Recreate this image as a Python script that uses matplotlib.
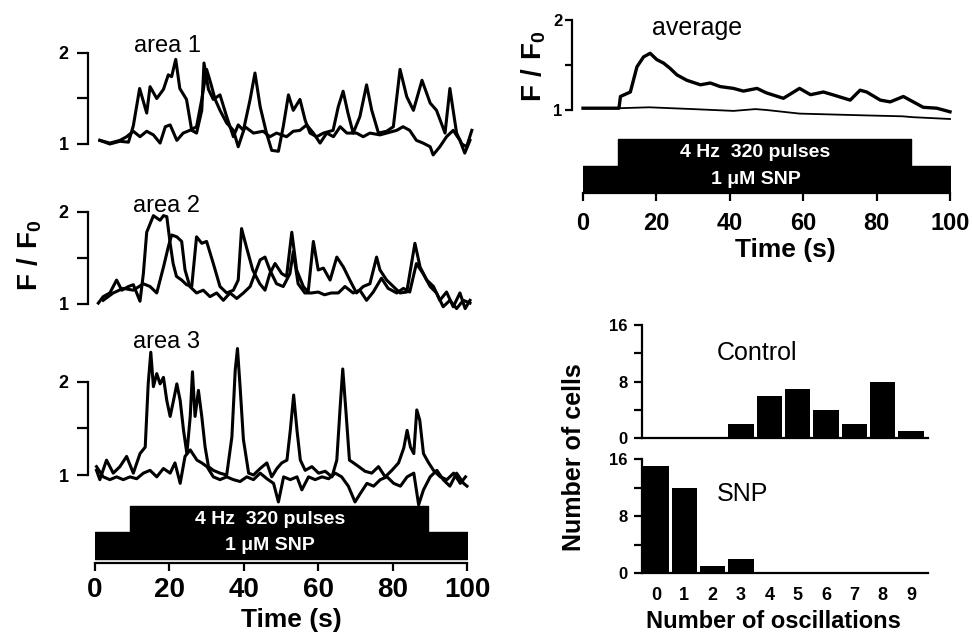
import matplotlib
matplotlib.use('Agg')
import matplotlib.pyplot as plt

# ── Data ─────────────────────────────────────────────────────────────────────
# area 1
A1_T1 = [1.3, 4, 6.7, 9, 10.3, 12, 13.9, 14.8, 16.6, 18.4, 19.7, 20.6, 21.7, 22.8, 24.6,
         26, 27.3, 28.7, 29.3, 30.5, 31.8, 33.6, 35.4, 37.2, 38.5, 39.9, 41.7, 43, 44.4, 46.1,
         47.5, 49.3, 50.6, 52, 53.3, 55.1, 56.5, 57.8, 59.6, 61.4, 64, 65.4, 66.7, 68, 69.4,
         71.2, 73, 74.4, 76.2, 78.4, 80.2, 82, 83.8, 85.6, 87.9, 90.1, 91.8, 94.1, 95.4, 97.2,
         98.6, 99.9, 101.3]
A1_V1 = [1.04, 1.0, 1.03, 1.02, 1.2, 1.61, 1.34, 1.63, 1.5, 1.6, 1.76, 1.74, 1.93, 1.61, 1.49,
         1.15, 1.12, 1.37, 1.89, 1.6, 1.49, 1.54, 1.3, 1.08, 1.21, 1.15, 1.49, 1.78, 1.41, 1.12,
         0.93, 0.92, 1.19, 1.54, 1.37, 1.49, 1.26, 1.12, 1.08, 1.12, 1.15, 1.41, 1.58, 1.34, 1.12,
         1.3, 1.65, 1.37, 1.12, 1.14, 1.19, 1.82, 1.52, 1.37, 1.7, 1.45, 1.37, 1.12, 1.61, 1.12,
         1.0, 0.97, 1.15]
A1_T2 = [1.3, 4, 6.7, 8.5, 10.3, 12.1, 13.9, 15.7, 17.5, 18.9, 20.2, 22, 23.7, 25.5, 27.3,
         28.7, 30, 31.1, 32.3, 33.6, 35.4, 37.2, 38.5, 40.3, 42.6, 45.2, 47, 48.8, 51.5, 53.3,
         55.1, 56.9, 58.7, 60.5, 62.3, 64.1, 65.9, 67.7, 70.3, 72.1, 73.9, 76.6, 78.4, 81.1, 82.8,
         84.6, 86.4, 88.2, 90.1, 90.9, 92.7, 94.5, 96.3, 98.1, 99.4, 100.8]
A1_V2 = [1.04, 1.01, 1.04, 1.08, 1.14, 1.08, 1.14, 1.1, 1.01, 1.19, 1.21, 1.04, 1.12, 1.15, 1.19,
         1.49, 1.82, 1.67, 1.49, 1.37, 1.23, 1.15, 0.97, 1.19, 1.12, 1.14, 1.08, 1.12, 1.08, 1.14,
         1.15, 1.21, 1.12, 1.01, 1.12, 1.08, 1.19, 1.12, 1.12, 1.08, 1.12, 1.1, 1.12, 1.15, 1.19,
         1.15, 1.04, 1.01, 0.97, 0.88, 0.97, 1.08, 1.15, 1.04, 0.9, 1.04]

# area 2
A2_T1 = [0.9, 2.2, 4, 5.8, 7.2, 9, 10.3, 12.1, 13, 13.9, 15.7, 17.5, 18.4, 19.3, 20.2,
         21, 21.9, 23.3, 24.6, 26, 27.3, 28.7, 30, 31.8, 33.6, 35.4, 37.2, 38.5, 39.4, 40.7,
         42.4, 44.3, 45.7, 47, 48.4, 50.2, 51.5, 52.9, 54.2, 56, 57.3, 58.7, 60, 61.4, 63.2,
         65, 66.8, 68.5, 70.3, 72.1, 73.9, 75.7, 76.6, 78.4, 80.2, 82, 83.8, 86, 87.4, 89.2,
         91, 92.7, 94.5, 96.3, 98.1, 99.5, 100.8]
A2_V1 = [1.01, 1.08, 1.12, 1.26, 1.15, 1.19, 1.21, 1.03, 1.33, 1.78, 1.96, 1.91, 1.96, 1.95, 1.66,
         1.44, 1.3, 1.26, 1.21, 1.19, 1.73, 1.66, 1.68, 1.44, 1.19, 1.12, 1.15, 1.26, 1.82, 1.62,
         1.37, 1.22, 1.15, 1.33, 1.44, 1.33, 1.3, 1.78, 1.37, 1.19, 1.13, 1.68, 1.37, 1.39, 1.26,
         1.51, 1.4, 1.26, 1.12, 1.19, 1.22, 1.51, 1.37, 1.26, 1.19, 1.12, 1.13, 1.66, 1.4, 1.26,
         1.19, 1.04, 1.13, 0.97, 1.12, 0.95, 1.04]
A2_T2 = [2.2, 4.9, 7.6, 10.3, 13, 14.8, 16.6, 18.4, 19.7, 20.6, 22, 23.3, 24.2, 25.5, 27.3,
         29.1, 30.9, 32.7, 34.5, 36.3, 38.1, 39.9, 41.7, 43, 44.4, 45.7, 47, 48.8, 50.6, 52.4,
         53.3, 54.6, 56.4, 58.2, 60, 61.7, 63.5, 65.4, 67.2, 69.4, 71.2, 73, 74.8, 77, 78.8,
         81.1, 82.9, 84.6, 86.4, 88.2, 90.1, 91.8, 93.6, 95.4, 97.2, 99, 100.8]
A2_V2 = [1.04, 1.12, 1.17, 1.15, 1.22, 1.19, 1.12, 1.4, 1.62, 1.75, 1.73, 1.68, 1.37, 1.19, 1.12,
         1.15, 1.08, 1.12, 1.04, 1.12, 1.06, 1.12, 1.19, 1.33, 1.48, 1.51, 1.37, 1.22, 1.19, 1.33,
         1.57, 1.22, 1.12, 1.12, 1.13, 1.1, 1.12, 1.12, 1.19, 1.12, 1.15, 1.04, 1.13, 1.28, 1.17,
         1.12, 1.17, 1.13, 1.44, 1.33, 1.19, 1.12, 0.97, 1.04, 0.95, 1.04, 1.01]

# area 3
A3_T1 = [0.4, 1.3, 3.1, 4.9, 6.7, 8.5, 10.3, 12.1, 13.5, 14.3, 15, 15.7, 16.6, 17.5, 18.4,
         19.3, 20.2, 21.1, 22, 22.9, 23.8, 24.7, 25.6, 26.2, 26.9, 27.8, 28.7, 29.6, 30.5, 31.8,
         33.6, 35.4, 36.8, 37.7, 38.3, 39, 39.9, 41.3, 42.6, 44.4, 46.2, 47.5, 48.9, 50.2, 51.6,
         52.5, 53.4, 54.3, 55.2, 56.5, 58.3, 60.1, 61.9, 63.7, 65, 65.9, 66.6, 67.5, 68.4, 69.5,
         70.9, 72.6, 74.4, 76.2, 78, 79.8, 81.6, 83, 83.9, 84.8, 85.7, 86.5, 87.3, 88.3, 89.7,
         91, 92.8, 94.6, 96.4, 98.2, 99.6]
A3_V1 = [1.05, 0.95, 1.16, 1.02, 1.09, 1.2, 1.02, 1.23, 1.3, 1.98, 2.32, 1.95, 2.09, 1.98, 2.05,
         1.8, 1.63, 1.8, 1.98, 1.8, 1.48, 1.23, 1.63, 2.11, 1.63, 1.91, 1.63, 1.3, 1.09, 1.05,
         1.02, 1.0, 1.41, 2.13, 2.36, 1.95, 1.38, 1.02, 1.0, 1.07, 1.13, 0.98, 1.07, 1.13, 1.16,
         1.48, 1.86, 1.48, 1.16, 1.05, 1.09, 1.02, 1.04, 0.98, 1.16, 1.73, 2.14, 1.66, 1.16, 1.13,
         1.09, 1.04, 1.02, 1.09, 0.98, 1.05, 1.13, 1.29, 1.48, 1.3, 1.23, 1.7, 1.59, 1.23, 1.13,
         1.05, 0.98, 0.95, 1.02, 0.91, 0.98]
A3_T2 = [0.4, 2.2, 4, 5.8, 7.6, 9.4, 11.2, 13, 14.8, 16.6, 18.4, 20.2, 21.5, 22.9, 24.2,
         25.6, 27.4, 28.7, 30.1, 31.8, 33.6, 35.4, 37.2, 39, 40.8, 42.6, 44.4, 46.2, 48, 49.3,
         50.7, 52.5, 54.3, 55.6, 57.4, 59.2, 61, 62.8, 64.6, 66.3, 68.1, 69.9, 71.3, 73.1, 74.9,
         76.7, 78.5, 80.3, 82.1, 83.9, 85.7, 87, 88.3, 90.1, 91.9, 93.6, 95.4, 97.2, 99.1, 100]
A3_V2 = [1.09, 0.98, 0.95, 0.98, 0.95, 0.98, 0.96, 1.02, 1.05, 0.98, 1.07, 1.02, 1.13, 0.91, 1.2,
         1.27, 1.16, 1.13, 1.09, 0.98, 0.95, 0.98, 0.95, 0.93, 0.98, 0.95, 1.02, 0.96, 0.91, 0.71,
         0.98, 0.95, 0.98, 0.84, 0.98, 0.95, 0.98, 0.96, 1.02, 0.98, 0.88, 0.71, 0.8, 0.91, 0.88,
         0.95, 0.98, 0.91, 0.88, 0.98, 1.02, 0.68, 0.84, 0.98, 1.05, 0.95, 0.88, 1.02, 0.91, 0.88]

# average
AVG_T = [0, 5, 9.8, 10.2, 12.9, 14.7, 16.5, 18.3, 20.1, 22, 23.8, 25.6, 28.3, 32, 34.7,
         37.4, 41, 43.7, 47.4, 50, 54.6, 59, 62, 65.5, 68, 72.8, 75.5, 77.3, 81, 83.7,
         87.3, 90, 92.7, 96.4, 100]
AVG_V = [1.02, 1.02, 1.02, 1.15, 1.2, 1.48, 1.59, 1.63, 1.56, 1.52, 1.46, 1.39, 1.33, 1.28, 1.3,
         1.26, 1.24, 1.21, 1.24, 1.19, 1.13, 1.24, 1.17, 1.2, 1.17, 1.11, 1.22, 1.2, 1.11, 1.09,
         1.15, 1.09, 1.03, 1.02, 0.98]
CTL_T = [0, 10, 18, 30, 41, 47, 50, 59, 77, 87, 90, 100]
CTL_V = [1.02, 1.02, 1.03, 1.01, 0.99, 1.01, 1.0, 0.96, 0.94, 0.93, 0.92, 0.9]

# stimulation protocol (s)
PULSE_ON, PULSE_OFF = 9.5, 89.5
SNP_ON, SNP_OFF = 0, 100
TIME_TICKS = [0, 20, 40, 60, 80, 100]

# oscillation histograms
BINS = [0, 1, 2, 3, 4, 5, 6, 7, 8, 9]
CONTROL_N = [0, 0, 0, 2, 6, 7, 4, 2, 8, 1]
SNP_N = [15, 12, 1, 2, 0, 0, 0, 0, 0, 0]

# ── Layout helpers (pixel based, 972 x 639) ──────────────────────────────────
W, H = 972, 639
plt.rcParams['font.family'] = ['Liberation Sans', 'DejaVu Sans']
plt.rcParams['mathtext.fontset'] = 'custom'
plt.rcParams['mathtext.bf'] = 'Liberation Sans:bold'
plt.rcParams['mathtext.rm'] = 'Liberation Sans:bold'

fig = plt.figure(figsize=(W / 100, H / 100), dpi=100)
fig.patch.set_facecolor('white')


def px_axes(xmap, ymap, xlim, ylim):
    (x0, px0), (x1, px1) = xmap
    (y0, py0), (y1, py1) = ymap
    sx = (px1 - px0) / (x1 - x0)
    sy = (py0 - py1) / (y1 - y0)
    left = px0 + (xlim[0] - x0) * sx
    right = px0 + (xlim[1] - x0) * sx
    bottom = py0 - (ylim[0] - y0) * sy
    top = py0 - (ylim[1] - y0) * sy
    ax = fig.add_axes([left / W, 1 - bottom / H, (right - left) / W, (bottom - top) / H])
    ax.set_xlim(*xlim)
    ax.set_ylim(*ylim)
    ax.patch.set_alpha(0)
    return ax


def ftext(x, y, s, **kw):
    kw.setdefault('ha', 'center')
    kw.setdefault('va', 'center')
    fig.text(x / W, 1 - y / H, s, **kw)


def trace_panel(ymap, traces, label, lxy):
    ax = px_axes(((0, 95), (100, 467)), ymap, (0, 100), (0.6, 2.45))
    for t, v in traces:
        ax.plot(t, v, color='k', lw=2.2, clip_on=False, solid_joinstyle='round')
    for s in ['top', 'right', 'bottom']:
        ax.spines[s].set_visible(False)
    ax.spines['left'].set_position(('outward', 5))
    ax.spines['left'].set_bounds(1, 2)
    ax.spines['left'].set_linewidth(1.6)
    ax.set_xticks([])
    ax.set_yticks([1, 1.5, 2])
    ax.set_yticklabels(['1', '', '2'], fontsize=13, fontweight='bold')
    ax.tick_params(axis='y', direction='out', length=8, width=1.6, pad=6)
    ftext(lxy[0], lxy[1], label, fontsize=17)
    return ax


def stim_panel(px0, px1, py_axis, snp_y, pulse_y, tick_fs, pad):
    ax = px_axes(((0, px0), (100, px1)), ((0, py_axis), (60, py_axis - 60)), (0, 100), (0, 60))
    ax.broken_barh([(SNP_ON, SNP_OFF - SNP_ON)], snp_y, color='k')
    ax.broken_barh([(PULSE_ON, PULSE_OFF - PULSE_ON)], pulse_y, color='k')
    ax.text(47, pulse_y[0] + pulse_y[1] / 2, '4 Hz  320 pulses', color='white',
            fontsize=14, fontweight='bold', ha='center', va='center')
    ax.text(47, snp_y[0] + snp_y[1] / 2, '1 \u03bcM SNP', color='white',
            fontsize=14, fontweight='bold', ha='center', va='center')
    for s in ['top', 'right', 'left']:
        ax.spines[s].set_visible(False)
    ax.spines['bottom'].set_linewidth(1.6)
    ax.set_yticks([])
    ax.set_xticks(TIME_TICKS)
    ax.set_xticklabels([str(t) for t in TIME_TICKS], fontsize=tick_fs, fontweight='bold')
    ax.tick_params(axis='x', direction='out', length=6, width=1.6, pad=pad)
    return ax


def hist_panel(ymap, counts, label, lxy, show_x):
    ax = px_axes(((0, 656), (9, 911)), ymap, (-0.5, 9.6), (0, 17))
    ax.bar(BINS, counts, width=0.9, color='k')
    for s in ['top', 'right']:
        ax.spines[s].set_visible(False)
    ax.spines['left'].set_bounds(0, 16)
    ax.spines['left'].set_linewidth(1.6)
    ax.spines['bottom'].set_linewidth(1.6)
    ax.set_yticks([0, 4, 8, 12, 16])
    ax.set_yticklabels(['0', '', '8', '', '16'], fontsize=12, fontweight='bold')
    ax.tick_params(axis='y', direction='out', length=6, width=1.6, pad=4)
    if show_x:
        ax.set_xticks(BINS)
        ax.set_xticklabels([str(b) for b in BINS], fontsize=13, fontweight='bold')
        ax.tick_params(axis='x', length=0, pad=10)
    else:
        ax.set_xticks([])
    ftext(lxy[0], lxy[1], label, fontsize=18)
    return ax


# ── Left: three areas ────────────────────────────────────────────────────────
trace_panel(((1, 144), (2, 53)), [(A1_T1, A1_V1), (A1_T2, A1_V2)], 'area 1', (167, 46))
trace_panel(((1, 304), (2, 212)), [(A2_T1, A2_V1), (A2_T2, A2_V2)], 'area 2', (166, 206))
trace_panel(((1, 475), (2, 382)), [(A3_T1, A3_V1), (A3_T2, A3_V2)], 'area 3', (166, 342))
stim_panel(95, 467, 563, (4, 26.5), (30.5, 26.5), 20, 4)
ftext(30, 255, r'$\mathbf{F\ /\ F_0}$', fontsize=20, rotation=90)
ftext(291, 620, 'Time (s)', fontsize=19, fontweight='bold')

# ── Right top: average ───────────────────────────────────────────────────────
ax = px_axes(((0, 583), (100, 950)), ((1, 110), (2, 20)), (0, 100), (0.8, 2.05))
ax.plot(AVG_T, AVG_V, color='k', lw=2.4, clip_on=False)
ax.plot(CTL_T, CTL_V, color='k', lw=1.3, clip_on=False)
for s in ['top', 'right', 'bottom']:
    ax.spines[s].set_visible(False)
ax.spines['left'].set_position(('outward', 8))
ax.spines['left'].set_bounds(1, 2)
ax.spines['left'].set_linewidth(1.6)
ax.set_xticks([])
ax.set_yticks([1, 1.5, 2])
ax.set_yticklabels(['1', '', '2'], fontsize=12, fontweight='bold')
ax.tick_params(axis='y', direction='out', length=5, width=1.6, pad=2)
ftext(697, 28, 'average', fontsize=18)
ftext(534, 66, r'$\mathbf{F\ /\ F_0}$', fontsize=20, rotation=90)
stim_panel(583, 950, 193, (1, 25.5), (27, 27), 17, 8)
ftext(785, 250, 'Time (s)', fontsize=19, fontweight='bold')

# ── Right bottom: oscillation histograms ─────────────────────────────────────
hist_panel(((0, 438), (16, 325)), CONTROL_N, 'Control', (757, 353), False)
hist_panel(((0, 573), (16, 459)), SNP_N, 'SNP', (742, 494), True)
ftext(574, 457, 'Number of cells', fontsize=18, fontweight='bold', rotation=90)
ftext(773, 622, 'Number of oscillations', fontsize=17, fontweight='bold')

fig.savefig('out.png', dpi=100, facecolor='white')
